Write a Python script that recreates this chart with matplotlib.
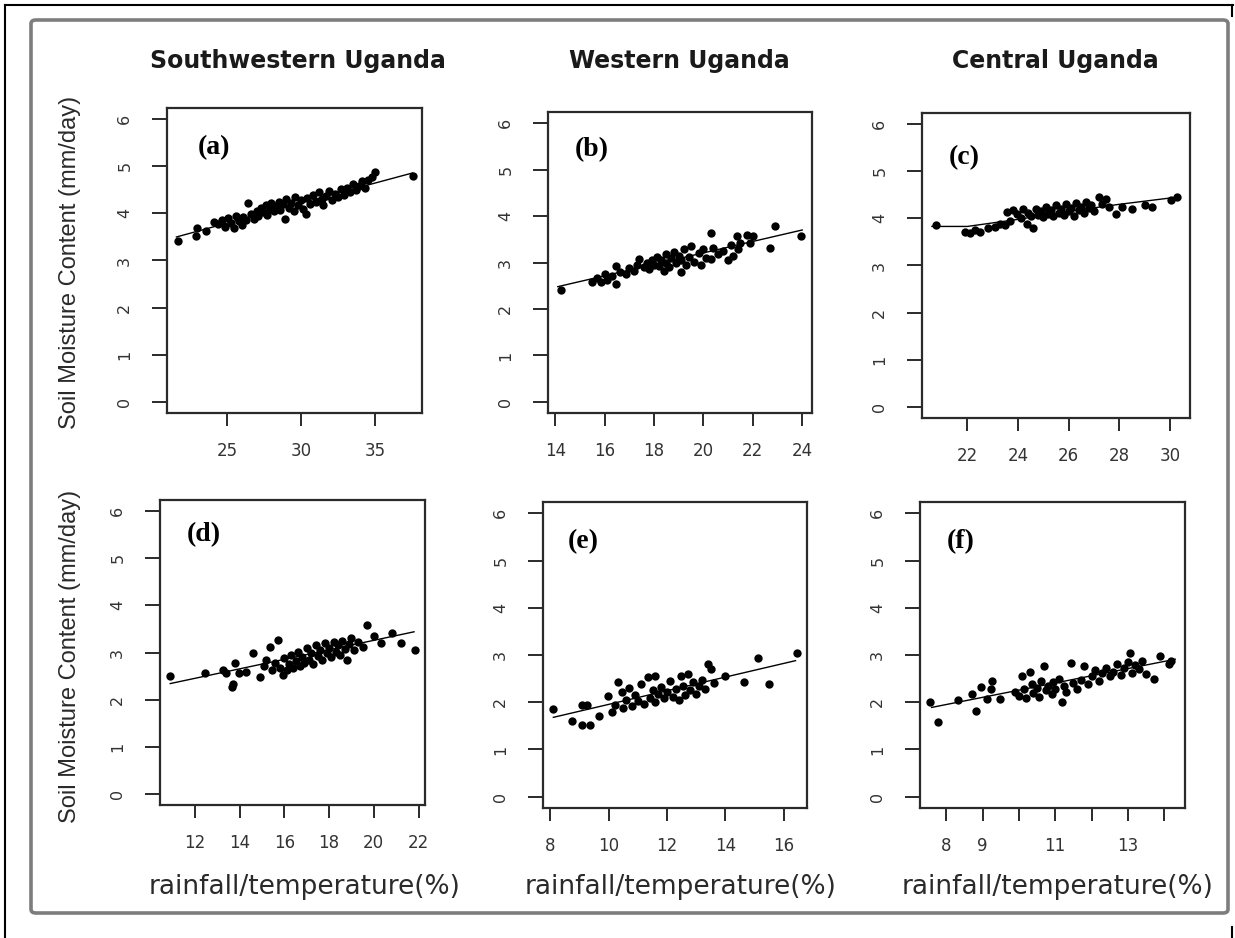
import matplotlib
matplotlib.use("Agg")
from matplotlib import pyplot as plt
from matplotlib.lines import Line2D
from matplotlib.patches import FancyBboxPatch

# ---- data ----
regions = ["Southwestern Uganda", "Western Uganda", "Central Uganda"]
panel_tags = ["(a)", "(b)", "(c)", "(d)", "(e)", "(f)"]
ylab = "Soil Moisture Content (mm/day)"
xlab = "rainfall/temperature(%)"

a_x = [21.7, 22.9, 23.0, 23.6, 24.1, 24.4, 24.7, 24.9, 25.1, 25.3, 25.5, 25.6, 25.8, 26.0,
       26.1, 26.3, 26.4, 26.6, 26.8, 27.0, 27.1, 27.3, 27.4, 27.6, 27.7, 27.9, 28.0, 28.2,
       28.3, 28.5, 28.6, 28.8, 28.9, 29.0, 29.2, 29.3, 29.5, 29.6, 29.8, 30.0, 30.1, 30.3,
       30.4, 30.6, 30.8, 31.0, 31.2, 31.4, 31.5, 31.7, 31.9, 32.1, 32.3, 32.5, 32.7, 32.9,
       33.1, 33.3, 33.5, 33.7, 33.9, 34.1, 34.3, 34.5, 34.8, 35.0, 37.5]
a_y = [3.42, 3.52, 3.70, 3.62, 3.81, 3.78, 3.85, 3.72, 3.90, 3.80, 3.68, 3.95, 3.84, 3.76,
       3.92, 3.86, 4.23, 3.98, 3.88, 4.05, 3.95, 4.12, 4.02, 4.18, 3.96, 4.10, 4.22, 4.05,
       4.15, 4.25, 4.08, 4.20, 3.88, 4.30, 4.12, 4.22, 4.05, 4.35, 4.18, 4.28, 4.10, 3.98,
       4.32, 4.20, 4.40, 4.25, 4.45, 4.30, 4.18, 4.38, 4.48, 4.28, 4.42, 4.35, 4.52, 4.40,
       4.55, 4.45, 4.62, 4.50, 4.58, 4.68, 4.55, 4.72, 4.78, 4.87, 4.80]
a_fit_x = [21.6, 29.5, 37.5]
a_fit_y = [3.50, 4.18, 4.86]

b_x = [14.25, 15.5, 15.7, 15.85, 16.0, 16.1, 16.3, 16.45, 16.45, 16.6, 16.85, 17.0, 17.2,
       17.3, 17.4, 17.6, 17.7, 17.8, 17.9, 18.0, 18.1, 18.2, 18.3, 18.4, 18.5, 18.5, 18.6,
       18.7, 18.8, 18.9, 19.0, 19.1, 19.1, 19.2, 19.3, 19.4, 19.5, 19.6, 19.8, 19.9, 20.0,
       20.1, 20.3, 20.3, 20.4, 20.6, 20.8, 21.0, 21.1, 21.2, 21.35, 21.4, 21.5, 21.75, 21.9,
       22.0, 22.7, 22.9, 23.95]
b_y = [2.40, 2.58, 2.66, 2.58, 2.76, 2.62, 2.72, 2.54, 2.93, 2.80, 2.75, 2.88, 2.82,
       2.95, 3.07, 2.90, 3.00, 2.85, 3.05, 2.95, 3.12, 2.92, 3.05, 2.82, 3.18, 3.00, 2.90,
       3.10, 3.22, 2.98, 3.15, 2.79, 3.05, 3.30, 2.95, 3.12, 3.35, 3.02, 3.20, 2.95, 3.28,
       3.10, 3.63, 3.07, 3.32, 3.18, 3.25, 3.05, 3.38, 3.15, 3.56, 3.28, 3.42, 3.60, 3.42,
       3.56, 3.32, 3.78, 3.56]
b_fit_x = [14.1, 24.0]
b_fit_y = [2.48, 3.70]

c_x = [20.76, 21.9, 22.1, 22.3, 22.5, 22.8, 23.1, 23.3, 23.5, 23.56, 23.7, 23.8, 23.95,
       24.1, 24.2, 24.34, 24.4, 24.5, 24.6, 24.7, 24.8, 24.9, 25.0, 25.1, 25.2, 25.3, 25.4,
       25.5, 25.6, 25.7, 25.8, 25.9, 26.0, 26.1, 26.2, 26.3, 26.4, 26.5, 26.6, 26.7, 26.8,
       26.9, 27.0, 27.2, 27.3, 27.46, 27.6, 27.85, 28.1, 28.5, 29.0, 29.3, 30.06, 30.26]
c_y = [3.86, 3.72, 3.69, 3.75, 3.72, 3.79, 3.82, 3.88, 3.85, 4.14, 3.95, 4.18, 4.10,
       4.00, 4.20, 3.89, 4.12, 4.05, 3.79, 4.20, 4.08, 4.15, 4.02, 4.25, 4.10, 4.18, 4.05,
       4.28, 4.12, 4.20, 4.08, 4.30, 4.15, 4.22, 4.05, 4.32, 4.18, 4.25, 4.12, 4.35, 4.22,
       4.28, 4.15, 4.46, 4.30, 4.42, 4.25, 4.10, 4.25, 4.21, 4.28, 4.25, 4.39, 4.46]
c_fit_x = [20.6, 22.0, 24.0, 26.0, 28.0, 30.4]
c_fit_y = [3.83, 3.83, 3.98, 4.15, 4.30, 4.46]

d_x = [10.88, 12.45, 13.27, 13.4, 13.64, 13.7, 13.8, 13.97, 14.3, 14.6, 14.9, 15.1, 15.2,
       15.36, 15.45, 15.6, 15.7, 15.8, 15.95, 16.0, 16.1, 16.2, 16.3, 16.4, 16.5, 16.6, 16.7,
       16.8, 16.9, 17.0, 17.1, 17.2, 17.3, 17.4, 17.5, 17.6, 17.7, 17.8, 17.9, 18.0, 18.1,
       18.2, 18.3, 18.4, 18.5, 18.6, 18.7, 18.8, 18.9, 19.0, 19.1, 19.3, 19.5, 19.7, 20.0,
       20.3, 20.8, 21.2, 21.85]
d_y = [2.50, 2.57, 2.63, 2.56, 2.27, 2.34, 2.77, 2.56, 2.59, 2.98, 2.49, 2.72, 2.85,
       3.12, 2.62, 2.78, 3.27, 2.68, 2.52, 2.88, 2.62, 2.75, 2.95, 2.68, 2.82, 3.02, 2.72,
       2.90, 2.78, 3.10, 2.85, 2.98, 2.75, 3.15, 2.92, 3.05, 2.85, 3.20, 2.98, 3.10, 2.90,
       3.22, 3.02, 3.15, 2.95, 3.25, 3.08, 2.85, 3.18, 3.30, 3.05, 3.22, 3.12, 3.59, 3.34,
       3.20, 3.41, 3.20, 3.05]
d_fit_x = [10.9, 21.8]
d_fit_y = [2.34, 3.44]

e_x = [8.08, 8.74, 9.08, 9.08, 9.25, 9.36, 9.65, 9.99, 10.1, 10.2, 10.33, 10.44, 10.5,
       10.6, 10.7, 10.8, 10.9, 11.0, 11.1, 11.2, 11.35, 11.4, 11.5, 11.58, 11.6, 11.7, 11.8,
       11.9, 12.0, 12.1, 12.2, 12.3, 12.4, 12.48, 12.55, 12.6, 12.7, 12.8, 12.9, 13.0, 13.1,
       13.2, 13.3, 13.4, 13.5, 13.6, 14.0, 14.64, 15.1, 15.5, 16.46]
e_y = [1.86, 1.61, 1.51, 1.94, 1.94, 1.51, 1.70, 2.14, 1.79, 1.95, 2.42, 2.21, 1.88,
       2.05, 2.30, 1.92, 2.15, 2.02, 2.38, 1.96, 2.53, 2.10, 2.25, 2.56, 2.00, 2.18, 2.32,
       2.08, 2.22, 2.45, 2.12, 2.28, 2.05, 2.56, 2.35, 2.15, 2.60, 2.25, 2.42, 2.18, 2.35,
       2.48, 2.28, 2.81, 2.70, 2.40, 2.56, 2.42, 2.93, 2.39, 3.05]
e_fit_x = [8.1, 16.4]
e_fit_y = [1.68, 2.88]

f_x = [7.55, 7.77, 8.32, 8.72, 8.81, 8.95, 9.13, 9.22, 9.26, 9.49, 9.9, 9.99, 10.08, 10.15,
       10.2, 10.3, 10.35, 10.4, 10.5, 10.55, 10.6, 10.7, 10.75, 10.8, 10.9, 10.95, 11.0,
       11.1, 11.2, 11.25, 11.3, 11.43, 11.5, 11.6, 11.7, 11.8, 11.9, 12.0, 12.1, 12.2, 12.3,
       12.4, 12.5, 12.6, 12.7, 12.8, 12.9, 13.0, 13.05, 13.1, 13.2, 13.3, 13.4, 13.5, 13.73,
       13.87, 14.14, 14.18]
f_y = [2.00, 1.58, 2.04, 2.18, 1.82, 2.32, 2.07, 2.28, 2.46, 2.07, 2.21, 2.14, 2.56, 2.28,
       2.10, 2.65, 2.38, 2.20, 2.30, 2.12, 2.45, 2.77, 2.25, 2.35, 2.18, 2.42, 2.28,
       2.50, 2.00, 2.35, 2.22, 2.84, 2.40, 2.28, 2.48, 2.77, 2.38, 2.55, 2.68, 2.45, 2.62,
       2.72, 2.55, 2.65, 2.80, 2.58, 2.72, 2.85, 3.05, 2.62, 2.78, 2.70, 2.88, 2.60, 2.49,
       2.98, 2.81, 2.88]
f_fit_x = [7.6, 14.3]
f_fit_y = [1.89, 2.91]

xticks_all = [[25, 30, 35], [14, 16, 18, 20, 22, 24], [22, 24, 26, 28, 30],
              [12, 14, 16, 18, 20, 22], [8, 10, 12, 14, 16], [8, 9, 10, 11, 12, 13, 14]]
xticklabels_all = [None, None, None, None, None, ["8", "9", "", "11", "", "13", ""]]
yticks = [0, 1, 2, 3, 4, 5, 6]

W, H = 1235, 938


def px_box(l, r, t, b):
    return [l / W, 1 - b / H, (r - l) / W, (b - t) / H]


# axes boxes in pixels (left, right, top, bottom)
boxes = [px_box(167, 422, 108, 413), px_box(548, 812, 112, 413), px_box(922, 1190, 113, 418),
         px_box(160, 425, 500, 805), px_box(543, 807, 502, 808), px_box(920, 1185, 502, 808)]
tag_pos = [(0.12, 0.87), (0.10, 0.875), (0.10, 0.855), (0.10, 0.885), (0.095, 0.87), (0.10, 0.87)]


def draw_panel(ax, x, y, fx, fy, i):
    ax.plot(x, y, 'o', color='black', markersize=6, markeredgewidth=0)
    ax.plot(fx, fy, color='black', linewidth=1.0)
    ax.margins(x=0.04)
    ax.set_ylim(-0.24, 6.24)
    ax.set_yticks(yticks)
    ax.set_xticks(xticks_all[i])
    if xticklabels_all[i] is not None:
        ax.set_xticklabels(xticklabels_all[i])
    for s in ax.spines.values():
        s.set_linewidth(1.6)
        s.set_color('#2a2a2a')
    ax.tick_params(axis='x', direction='out', length=9, width=1.4, pad=12,
                   labelsize=12, colors='#2a2a2a', labelcolor='#333333')
    ax.tick_params(axis='y', direction='out', length=11, width=1.4, pad=14,
                   labelsize=11.5, colors='#2a2a2a', labelcolor='#333333', labelrotation=90)
    for lab in ax.get_yticklabels():
        lab.set_va('center')
    ax.text(tag_pos[i][0], tag_pos[i][1], panel_tags[i], transform=ax.transAxes,
            ha='left', va='center', fontsize=20, fontweight='bold', family='Liberation Serif')


fig = plt.figure(figsize=(W / 100, H / 100), dpi=100)

# outer borders
fig.add_artist(Line2D([5 / W, 1233 / W], [1 - 5 / H, 1 - 5 / H], color='black', lw=1.5))
fig.add_artist(Line2D([5 / W, 5 / W], [0, 1 - 5 / H], color='black', lw=1.5))
fig.add_artist(Line2D([1232 / W, 1232 / W], [1 - 5 / H, 1 - 16 / H], color='black', lw=1.5))
fig.add_artist(Line2D([1232 / W, 1232 / W], [0, 1 - 927 / H], color='black', lw=1.5))
fig.add_artist(FancyBboxPatch((31 / W, 1 - 913 / H), 1197 / W, 893 / H,
                              boxstyle='round,pad=0,rounding_size=0.004',
                              transform=fig.transFigure, fill=False,
                              edgecolor='#7d7d7d', linewidth=2.6))

series = [(a_x, a_y, a_fit_x, a_fit_y), (b_x, b_y, b_fit_x, b_fit_y),
          (c_x, c_y, c_fit_x, c_fit_y), (d_x, d_y, d_fit_x, d_fit_y),
          (e_x, e_y, e_fit_x, e_fit_y), (f_x, f_y, f_fit_x, f_fit_y)]

for i in range(6):
    ax = fig.add_axes(boxes[i])
    x, y, fx, fy = series[i]
    draw_panel(ax, x, y, fx, fy, i)

# column titles
for cx, name in zip([298, 679, 1055], regions):
    fig.text(cx / W, 1 - 61 / H, name, ha='center', va='center',
             fontsize=17, fontweight='bold', color='#1a1a1a')

# x labels
for cx in [305, 681, 1058]:
    fig.text(cx / W, 1 - 887 / H, xlab, ha='center', va='center',
             fontsize=19, color='#2a2a2a')

# y labels
for cy in [262, 656]:
    fig.text(70 / W, 1 - cy / H, ylab, ha='center', va='center', rotation=90,
             fontsize=17, family='Liberation Sans', color='#2a2a2a')

fig.savefig('out.png', dpi=100)
